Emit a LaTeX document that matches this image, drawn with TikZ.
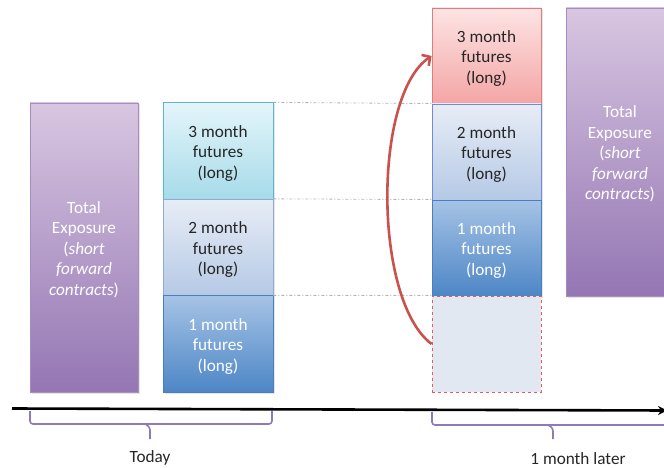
\documentclass[tikz,border=0pt]{standalone}
\usepackage{fontspec}
\setmainfont{Carlito}
\usetikzlibrary{arrows.meta,shadows}
\definecolor{txt}{HTML}{262626}
\definecolor{purT}{HTML}{D8C6E1}
\definecolor{purB}{HTML}{9476B3}
\definecolor{purD}{HTML}{A48DC0}
\definecolor{cyT}{HTML}{E4F5FA}
\definecolor{cyB}{HTML}{A6DBE9}
\definecolor{cyD}{HTML}{5DB6CD}
\definecolor{ltT}{HTML}{E7EDF6}
\definecolor{ltB}{HTML}{B5C9E5}
\definecolor{ltD}{HTML}{8FAAD3}
\definecolor{dkT}{HTML}{A5C3E5}
\definecolor{dkB}{HTML}{4D86C6}
\definecolor{dkD}{HTML}{4A7FBF}
\definecolor{rdT}{HTML}{FDE4E4}
\definecolor{rdB}{HTML}{F4A5A5}
\definecolor{rdD}{HTML}{E07C7C}
\definecolor{emptyfill}{HTML}{E1E8F2}
\definecolor{dashred}{HTML}{E85A5A}
\definecolor{arrowred}{HTML}{C9524C}
\definecolor{brace}{HTML}{9079B9}
\newcommand\bt[1]{\raisebox{-2.5pt}[\height][\depth]{\begin{tabular}{@{}c@{}}#1\end{tabular}}}
\tikzset{
  x=1pt, y=-1pt,
  lbl/.style={font=\fontsize{17.2}{20.5}\selectfont, text=txt, align=center},
  box/.style={lbl, inner sep=0pt, minimum width=110pt, minimum height=96.5pt,
    line width=0.8pt, drop shadow={opacity=0.2, shadow xshift=1.5pt, shadow yshift=-1.5pt}},
  purplebox/.style={box, minimum width=108pt, minimum height=289pt, draw=purD,
    top color=purT, bottom color=purB, text=white},
  cyanbox/.style={box, draw=cyD, top color=cyT, bottom color=cyB},
  lightbox/.style={box, draw=ltD, top color=ltT, bottom color=ltB},
  darkbox/.style={box, draw=dkD, top color=dkT, bottom color=dkB, text=white},
  redbox/.style={box, draw=rdD, top color=rdT, bottom color=rdB},
  emptybox/.style={minimum width=109pt, minimum height=96pt, inner sep=0pt,
    fill=emptyfill, draw=dashred, dashed, line width=0.8pt},
  guide/.style={draw=gray!60, line width=0.8pt, dash pattern=on 3pt off 2pt on 1pt off 2pt},
  bracket/.style={draw=brace, line width=1.6pt, rounded corners=3pt},
}
\begin{document}
\begin{tikzpicture}
\useasboundingbox (0,0) rectangle (664,468);
% today
\node[purplebox] (totL) at (84,247.5) {\bt{Total\\Exposure\\(\textit{short}\\\textit{forward}\\\textit{contracts})}};
\node[cyanbox] (l3) at (218,151) {\bt{3 month\\futures\\(long)}};
\node[lightbox] (l2) at (218,247.5) {\bt{2 month\\futures\\(long)}};
\node[darkbox] (l1) at (218,344) {\bt{1 month\\futures\\(long)}};
% one month later
\node[redbox, minimum width=109pt, minimum height=96pt] (r3) at (486.5,56) {\bt{3 month\\futures\\(long)}};
\node[lightbox, draw=ltD!80!blue, minimum width=109pt, minimum height=96pt] (r2) at (486.5,152) {\bt{2 month\\futures\\(long)}};
\node[darkbox, minimum width=109pt, minimum height=96pt] (r1) at (486.5,248) {\bt{1 month\\futures\\(long)}};
\node[emptybox] (r0) at (486.5,344) {};
\node[purplebox, minimum height=288pt] (totR) at (620,152) {\bt{Total\\Exposure\\(\textit{short}\\\textit{forward}\\\textit{contracts})}};
% guides
\draw[guide] (l3.north east) -- (r2.north west);
\draw[guide] (l2.north east) -- (r1.north west);
\draw[guide] (l1.north east) -- (r0.north west);
% roll arrow
\draw[arrowred, line width=2.6pt, -{Straight Barb[length=6pt,width=13pt]}]
  (r0.west) .. controls (373,300) and (373,95) .. (r3.west);
% time axis
\coordinate (axL) at (12,408.5);
\coordinate (axR) at (667,410.5);
\draw[black, line width=2.6pt, -{Stealth[length=9pt,width=9pt]}] (axL) -- (axR);
% brackets
\coordinate (b1a) at (30,411);
\coordinate (b1b) at (272,411);
\coordinate (b1c) at (150,439);
\draw[bracket] (b1a) -- (30,424) -- (272,424) -- (b1b);
\draw[bracket] (145,424) -- (150,427) -- (b1c);
\coordinate (b2a) at (432,412);
\coordinate (b2c) at (553,439);
\draw[bracket] (b2a) -- (432,425) -- (675,425) -- (675,412);
\draw[bracket] (548,425) -- (553,428) -- (b2c);
\node[lbl] (today) at (150,458) {Today};
\node[lbl] (later) at (578,459) {1 month later};
\end{tikzpicture}
\end{document}
